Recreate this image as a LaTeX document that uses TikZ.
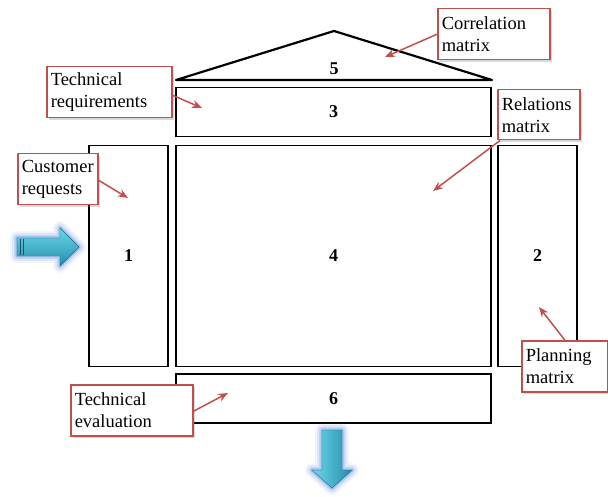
\documentclass[tikz,border=0pt]{standalone}
\usepackage{fontspec}
\setmainfont{Liberation Serif}
\usetikzlibrary{arrows.meta,shadows}

\definecolor{calloutred}{RGB}{192,80,77}
\definecolor{glowblue}{RGB}{80,130,220}
\definecolor{cyanlight}{RGB}{110,215,235}
\definecolor{cyandark}{RGB}{35,140,170}

\tikzset{
  part/.style={draw, line width=1.9pt, inner sep=0pt},
  num/.style={font=\bfseries\fontsize{18}{20}\selectfont},
  callout/.style={draw=calloutred, line width=1.5pt, fill=white, anchor=north west,
    align=left, inner xsep=4pt, inner ysep=0pt, font=\fontsize{18.5}{22}\selectfont,
    drop shadow={opacity=0.3, shadow xshift=2pt, shadow yshift=-2pt}},
  pointer/.style={calloutred, line width=1.5pt, -{Stealth[length=10pt,width=8pt]}},
  glow/.style={draw=glowblue, line join=round, opacity=#1},
}

\begin{document}
\begin{tikzpicture}[x=1pt,y=-1pt]
\useasboundingbox (0,0) rectangle (608,497);

% roof (5)
\draw[line width=2.2pt, line join=round, line cap=round] (176,80) -- (334,31) -- (492,80) -- cycle;
\node[num] (n5) at (334,69) {5};

% the house parts
\node[part, num, minimum width=315, minimum height=49] (box3) at (333.5,112) {3};
\node[part, num, minimum width=79, minimum height=221] (box1) at (128.5,256) {1};
\node[part, num, minimum width=315, minimum height=221] (box4) at (333.5,256) {4};
\node[part, num, minimum width=79, minimum height=221] (box2) at (537.5,256) {2};
\node[part, num, minimum width=315, minimum height=49] (box6) at (333.5,398.5) {6};

% input arrow
\foreach \w/\o in {14/0.08, 10/0.12, 6/0.18, 3/0.3}
  \draw[glow=\o, line width=\w pt] (17,238) -- (60,238) -- (60,228) -- (79,247) -- (60,266) -- (60,256) -- (17,256) -- cycle;
\shade[top color=cyanlight, bottom color=cyandark, draw=cyandark!80!black, line width=0.4pt]
  (17,238) -- (60,238) -- (60,228) -- (79,247) -- (60,266) -- (60,256) -- (17,256) -- cycle;
\draw[cyandark!60!black, line width=0.6pt] (20,239) -- (20,255) (23,239) -- (23,255);

% output arrow
\foreach \w/\o in {14/0.08, 10/0.12, 6/0.18, 3/0.3}
  \draw[glow=\o, line width=\w pt] (322,430) -- (342,430) -- (342,470) -- (352,470) -- (332,488) -- (312,470) -- (322,470) -- cycle;
\shade[left color=cyanlight, right color=cyandark, draw=cyandark!80!black, line width=0.4pt]
  (322,430) -- (342,430) -- (342,470) -- (352,470) -- (332,488) -- (312,470) -- (322,470) -- cycle;

% callouts
\node[callout, text width=104, minimum height=51] (corr) at (437,8) {Correlation\\matrix};
\node[callout, text width=117, minimum height=51] (techreq) at (46,66) {Technical\\requirements};
\node[callout, text width=74, minimum height=50] (rel) at (497,89) {Relations\\matrix};
\node[callout, text width=72, minimum height=51] (cust) at (17,153) {Customer\\requests};
\node[callout, text width=78, minimum height=51] (plan) at (521,340) {Planning\\matrix};
\node[callout, text width=114, minimum height=51] (techeval) at (70,384) {Technical\\evaluation};

\coordinate (corrtip) at (385,57);
\coordinate (techreqtip) at (202,108);
\coordinate (reltip) at (433,191);
\coordinate (custtip) at (128,198);
\coordinate (plantip) at (539,307);
\coordinate (techevaltip) at (228,393);

\draw[pointer] (corr.west) -- (corrtip);
\draw[pointer] ([yshift=-3pt]techreq.east) -- (techreqtip);
\draw[pointer] ([xshift=3pt]rel.south west) -- (reltip);
\draw[pointer] ([yshift=-1pt]cust.east) -- (custtip);
\draw[pointer] (plan.north) -- (plantip);
\draw[pointer] ([yshift=-1pt]techeval.east) -- (techevaltip);
\end{tikzpicture}
\end{document}
